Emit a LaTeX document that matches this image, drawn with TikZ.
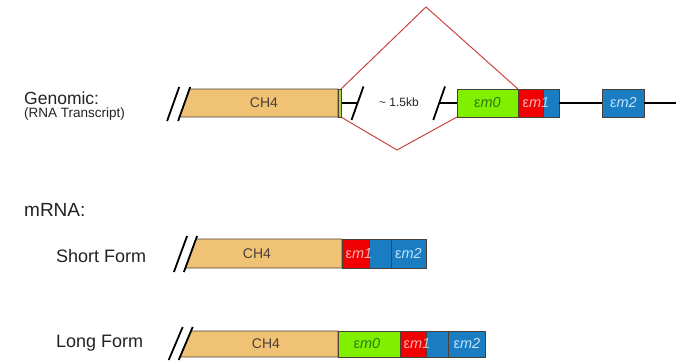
\documentclass[tikz,border=0pt]{standalone}
\usepackage{fontspec}
\setmainfont{Liberation Sans}
\definecolor{ch4}{HTML}{F0C276}
\definecolor{exg}{HTML}{80F000}
\definecolor{exr}{HTML}{F00000}
\definecolor{exb}{HTML}{1A7DC2}
\definecolor{edge}{HTML}{4A4036}
\definecolor{splice}{HTML}{C84444}
\definecolor{strip}{HTML}{B0D830}
\definecolor{labtxt}{HTML}{222222}
\definecolor{g0txt}{HTML}{2F7A10}
\definecolor{b2txt}{HTML}{BFE3FF}
\begin{document}
\begin{tikzpicture}[x=1pt,y=-1pt,
  outline/.style={draw=edge, line width=0.8pt},
  exbox/.style={outline, inner sep=0pt, outer sep=0pt, minimum height=#1},
  exbox/.default=28,
  cut/.style={line width=1.8pt, black},
  wire/.style={line width=1.2pt, black},
  splicing/.style={draw=splice, line width=1pt, line join=miter},
  rowlab/.style={anchor=west, text=labtxt, inner sep=0pt, font=\fontsize{18}{21}\selectfont},
  chlab/.style={text=edge, inner sep=0pt, font=\fontsize{14}{16}\selectfont},
  exlab/.style={inner sep=0pt, font=\fontsize{14.5}{16}\selectfont},
  lab1/.style={exlab, text=white, text opacity=0.7},
]
\useasboundingbox (0,0) rectangle (683,364);

% ---------------- labels ----------------
\node[rowlab, font=\fontsize{17.5}{20}\selectfont] (tgen) at (24,98) {Genomic:};
\node[rowlab, font=\fontsize{13.5}{15}\selectfont] (trna) at (24,114) {(RNA Transcript)};
\node[rowlab, font=\fontsize{19}{22}\selectfont] (tmrna) at (24,210) {mRNA:};
\node[rowlab] (tshort) at (56,256) {Short Form};
\node[rowlab] (tlong) at (56,343) {Long Form};

% ---------------- genomic row ----------------
% splicing diamond
\coordinate (gtopL) at (341,89);
\coordinate (gapex) at (426,7);
\coordinate (gtopR) at (518,89);
\coordinate (gbotL) at (341,117);
\coordinate (gbotapex) at (397,150);
\coordinate (gbotR) at (457,117);
\draw[splicing] (gtopL) -- (gapex) -- (gtopR);
\draw[splicing] (gbotL) -- (gbotapex) -- (gbotR);

% wires
\coordinate (gw1a) at (341,103);
\coordinate (gw1b) at (357.5,103);
\coordinate (gw2a) at (439,103);
\draw[wire] (gw1a) -- (gw1b);

% CH4 block
\fill[ch4] (179.5,117) -- (189.5,89) -- (338,89) -- (338,117) -- cycle;
\draw[outline] (179.5,117) -- (189.5,89) -- (338,89) -- (338,117) -- cycle;
\draw[outline, fill=strip, line width=0.5pt] (338,89) rectangle (341,117);
\node[chlab] (gch4) at (264,103) {CH4};
\draw[cut] (167.1,121) -- (179.2,87);
\draw[cut] (178.1,121) -- (190.2,87);
\draw[cut] (351.5,120) -- (363.5,86.5);
\draw[cut] (433.3,120) -- (445,86.5);

\node[font=\fontsize{12}{14}\selectfont, text=labtxt, inner sep=0pt] (gkb) at (399,102) {\textasciitilde{} 1.5kb};

\node[exbox, fill=exg, minimum width=61] (g0) at (487.5,103) {};
\node[exbox, fill=exr, minimum width=25] (g1r) at (530.5,103) {};
\node[exbox, fill=exb, minimum width=16] (g1b) at (551,103) {};
\node[exbox, fill=exb, minimum width=42] (g2) at (623,103) {};
\coordinate (gend) at (676,103);
\draw[wire] (gw2a) -- (g0.west);
\draw[wire] (g1b.east) -- (g2.west);
\draw[wire] (g2.east) -- (gend);
\node[exlab, text=g0txt] (tg0) at (487.5,103) {ε\textit{m0}};
\node[lab1] (tg1) at (536,103) {ε\textit{m1}};
\node[exlab, text=b2txt] (tg2) at (623.5,103) {ε\textit{m2}};

% ---------------- short form ----------------
\fill[ch4] (185.4,268) -- (196,239) -- (342,239) -- (342,268) -- cycle;
\draw[outline] (185.4,268) -- (196,239) -- (342,239) -- (342,268) -- cycle;
\draw[cut] (173.9,272) -- (187.1,236);
\draw[cut] (183.9,272) -- (197.1,236);
\node[chlab] (sch4) at (257,253.5) {CH4};
\node[exbox=29, fill=exr, minimum width=27] (s1r) at (355.5,253.5) {};
\node[exbox=29, fill=exb, minimum width=22] (s1b) at (380,253.5) {};
\node[exbox=29, fill=exb, minimum width=35] (s2) at (408.5,253.5) {};
\node[lab1] (ts1) at (359,253.5) {ε\textit{m1}};
\node[exlab, text=b2txt] (ts2) at (408.5,253.5) {ε\textit{m2}};

% ---------------- long form ----------------
\fill[ch4] (180,357) -- (191,331) -- (338,331) -- (338,357) -- cycle;
\draw[outline] (180,357) -- (191,331) -- (338,331) -- (338,357) -- cycle;
\draw[cut] (168.7,360) -- (182.7,327);
\draw[cut] (178.7,360) -- (192.7,327);
\node[chlab] (lch4) at (266,344) {CH4};
\node[exbox=26, fill=exg, minimum width=62] (l0) at (369,344) {};
\node[exbox=26, fill=exr, minimum width=26] (l1r) at (413,344) {};
\node[exbox=26, fill=exb, minimum width=22] (l1b) at (437,344) {};
\node[exbox=26, fill=exb, minimum width=37] (l2) at (466.5,344) {};
\node[exlab, text=g0txt] (tl0) at (367,344) {ε\textit{m0}};
\node[lab1] (tl1) at (417,344) {ε\textit{m1}};
\node[exlab, text=b2txt] (tl2) at (467,344) {ε\textit{m2}};
\end{tikzpicture}
\end{document}
